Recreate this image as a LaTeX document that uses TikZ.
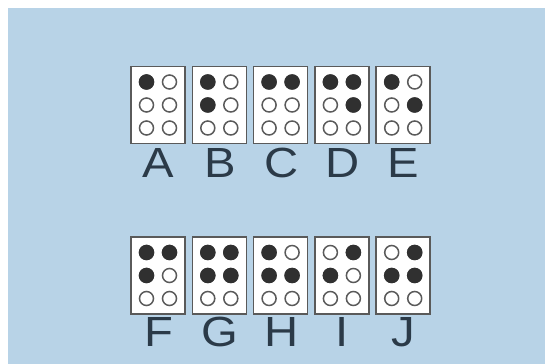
\documentclass[tikz,border=0pt]{standalone}
\usepackage{fontspec}
\setmainfont{Liberation Sans}
\definecolor{bleufond}{HTML}{B8D3E7}
\definecolor{gristrait}{HTML}{5A5A5A}
\definecolor{encre}{HTML}{2B3A48}
\definecolor{point}{HTML}{303030}
\tikzset{
  cellule/.style={draw=gristrait, line width=0.9pt, fill=white, minimum width=1.08cm, minimum height=1.54cm, inner sep=0pt},
  lettre/.style={text=encre, font=\fontsize{24}{24}\selectfont, anchor=base, inner sep=0pt, xscale=1.12},
  vide/.style={draw=gristrait, line width=0.85pt, fill=white},
  plein/.style={fill=point}
}

\begin{document}
\begin{tikzpicture}[x=0.02cm, y=-0.02cm]
  \useasboundingbox (0,0) rectangle (545,364);
  \fill[bleufond] (8,8) rectangle (545,364);
  % cellules braille
  \foreach \nom/\col/\cy/\by/\points in {
      A/0/105/178/{1}, B/1/105/178/{1,2}, C/2/105/178/{1,4}, D/3/105/178/{1,4,5}, E/4/105/178/{1,5},
      F/0/275.5/346.5/{1,2,4}, G/1/275.5/346.5/{1,2,4,5}, H/2/275.5/346.5/{1,2,5}, I/3/275.5/346.5/{2,4}, J/4/275.5/346.5/{2,4,5}}
  {
    \node[cellule] (c-\nom) at (158+61.3*\col, \cy) {};
    \node[lettre] (l-\nom) at (158.5+61.3*\col, \by) {\nom};
    \begin{scope}[shift={(c-\nom.center)}]
      % dessin des points
      \foreach \p in {1,...,6}
        \draw[vide] ({-11.5+23*int((\p-1)/3)}, {-23+23*mod(\p-1,3)}) circle (0.14cm);
      \foreach \p in \points
        \fill[plein] ({-11.5+23*int((\p-1)/3)}, {-23+23*mod(\p-1,3)}) circle (0.155cm);
    \end{scope}
  }
\end{tikzpicture}
\end{document}
